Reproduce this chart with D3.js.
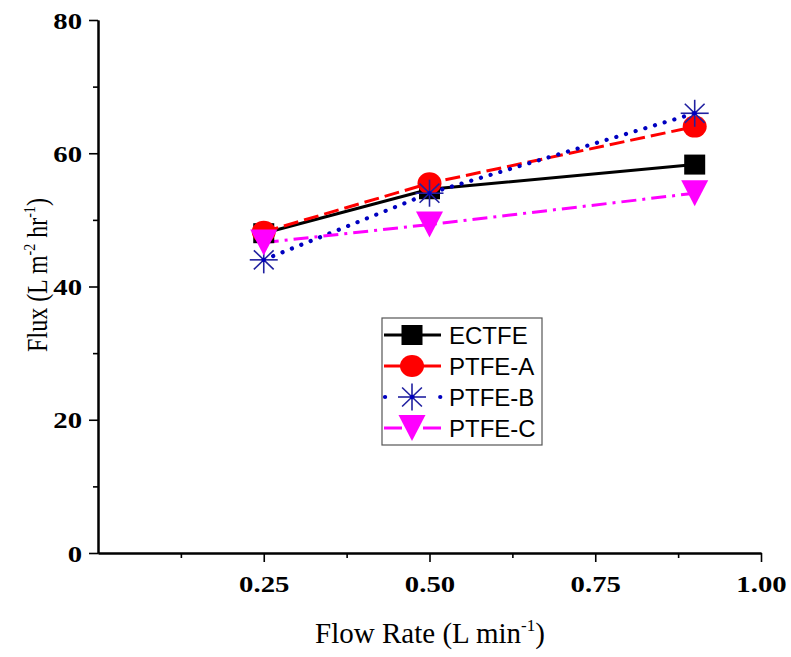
<!DOCTYPE html>
<html><head><meta charset="utf-8">
<script src="https://cdn.jsdelivr.net/npm/d3@7"></script>
<style>body{margin:0;background:#fff}svg{display:block}</style>
</head><body>
<script>
const flowRates = [0.25, 0.5, 0.9];
const seriesNames = ["ECTFE", "PTFE-A", "PTFE-B", "PTFE-C"];
const ectfe = [48.0, 54.6, 58.3];
const ptfeA = [48.2, 55.5, 64.0];
const ptfeB = [44.0, 54.0, 66.0];
const ptfeC = [46.6, 49.3, 54.0];
const xTicks = [0.25, 0.5, 0.75, 1.0];
const xMinor = [0.125, 0.375, 0.625, 0.875];
const yTicks = [0, 20, 40, 60, 80];
const yMinor = [10, 30, 50, 70];

const W = 791, H = 657;
const svg = d3.select("body").append("svg").attr("width", W).attr("height", H);
const x = d3.scaleLinear().domain([0, 1]).range([98, 761]);
const y = d3.scaleLinear().domain([0, 80]).range([553, 20]);

const styles = [
  {color:"#000000", dash:null, marker:"square", width:3},
  {color:"#ff0000", dash:"15,6", marker:"circle", width:3},
  {color:"#0000c0", dash:"0.1,10", marker:"star", width:4.2, cap:"round"},
  {color:"#ff00ff", dash:"15,6,3,6", marker:"tri", width:3}
];
const values = [ectfe, ptfeA, ptfeB, ptfeC];

function drawMarker(g, type, cx, cy, color) {
  if (type === "square") {
    g.append("rect").attr("x", cx-10.5).attr("y", cy-10).attr("width", 21).attr("height", 20).attr("fill", color);
  } else if (type === "circle") {
    g.append("ellipse").attr("cx", cx).attr("cy", cy).attr("rx", 12).attr("ry", 11).attr("fill", color);
  } else if (type === "star") {
    const rx = 14, ry = 13.5;
    for (let k = 0; k < 4; k++) {
      const a = k * Math.PI / 4;
      g.append("line").attr("x1", cx - rx*Math.cos(a)).attr("y1", cy - ry*Math.sin(a))
        .attr("x2", cx + rx*Math.cos(a)).attr("y2", cy + ry*Math.sin(a))
        .attr("stroke", "#2020a0").attr("stroke-width", 1.6);
    }
    g.append("circle").attr("cx", cx).attr("cy", cy).attr("r", 2.2).attr("fill", "#0000c0");
  } else if (type === "tri") {
    const w = 13.5, h = 13;
    g.append("path").attr("d", `M${cx-w},${cy-h}L${cx+w},${cy-h}L${cx},${cy+h}Z`).attr("fill", color);
  }
}

// series
const plot = svg.append("g");
values.forEach((vals, i) => {
  const st = styles[i];
  const data = flowRates.map((fr, j) => [fr, vals[j]]);
  plot.append("path").datum(data)
    .attr("d", d3.line().x(d => x(d[0])).y(d => y(d[1])))
    .attr("fill", "none").attr("stroke", st.color).attr("stroke-width", st.width)
    .attr("stroke-dasharray", st.dash).attr("stroke-linecap", st.cap || "butt");
});
values.forEach((vals, i) => {
  const st = styles[i];
  const g = plot.append("g");
  flowRates.forEach((fr, j) => drawMarker(g, st.marker, x(fr), y(vals[j]), st.color));
});

// axes
const serif = "'Liberation Serif','Times New Roman',serif";
const SX = 1.25;
const xAxis = svg.append("g").attr("transform", "translate(0,553)")
  .call(d3.axisBottom(x).tickValues(xTicks).tickFormat(d3.format(".2f")).tickSize(9).tickSizeOuter(0).tickPadding(14));
const xAxisMinor = svg.append("g").attr("transform", "translate(0,553)")
  .call(d3.axisBottom(x).tickValues(xMinor).tickFormat("").tickSize(5).tickSizeOuter(0));
const yAxis = svg.append("g").attr("transform", "translate(98,0)")
  .call(d3.axisLeft(y).tickValues(yTicks).tickFormat(d3.format("d")).tickSize(9).tickSizeOuter(0).tickPadding(7));
const yAxisMinor = svg.append("g").attr("transform", "translate(98,0)")
  .call(d3.axisLeft(y).tickValues(yMinor).tickFormat("").tickSize(5).tickSizeOuter(0));
[xAxis, xAxisMinor, yAxis, yAxisMinor].forEach(a => {
  a.select(".domain").attr("stroke", "#000").attr("stroke-width", 2);
  a.selectAll(".tick line").attr("stroke", "#000").attr("stroke-width", 1.6);
  a.selectAll("text").attr("font-family", serif).attr("font-weight", "bold").attr("font-size", 23).attr("fill", "#000");
});
yAxis.selectAll("text").attr("dy", "0.35em").each(function() {
  const tx = +d3.select(this).attr("x");
  d3.select(this).attr("transform", `translate(${tx},0) scale(${SX},1) translate(${-tx},0)`);
});
xAxis.selectAll("text").attr("transform", `scale(${SX},1)`);

// axis titles
const xt = svg.append("text").attr("x", 430).attr("y", 643).attr("text-anchor", "middle")
  .attr("font-family", serif).attr("font-size", 29).attr("fill", "#000");
xt.append("tspan").text("Flow Rate (L min");
xt.append("tspan").attr("dy", -12).attr("font-size", 17).text("-1");
xt.append("tspan").attr("dy", 12).text(")");

const yt = svg.append("text").attr("transform", `translate(47,275) scale(1.22,1) rotate(-90)`).attr("text-anchor", "middle")
  .attr("font-family", serif).attr("font-size", 24).attr("fill", "#000");
yt.append("tspan").text("Flux (L m");
yt.append("tspan").attr("dy", -10).attr("font-size", 14).text("-2");
yt.append("tspan").attr("dy", 10).text(" hr");
yt.append("tspan").attr("dy", -10).attr("font-size", 14).text("-1");
yt.append("tspan").attr("dy", 10).text(")");

// legend
const lg = svg.append("g");
lg.append("rect").attr("x", 382).attr("y", 318).attr("width", 160).attr("height", 127)
  .attr("fill", "#fff").attr("stroke", "#555").attr("stroke-width", 1.2);
const legRows = [335, 366, 397, 428];
seriesNames.forEach((name, i) => {
  const st = styles[i];
  const ry = legRows[i];
  const seg = lg.append("line").attr("x1", 384).attr("x2", 441).attr("y1", ry).attr("y2", ry)
    .attr("stroke", st.color).attr("stroke-width", st.width).attr("stroke-linecap", st.cap || "butt");
  if (st.marker === "star") seg.attr("stroke-dasharray", "0.1,27.5").attr("x1", 385);
  if (st.marker === "tri") seg.attr("stroke-dasharray", "18,21,18");
  drawMarker(lg, st.marker, 412, ry, st.color);
  lg.append("text").attr("x", 449).attr("y", ry).attr("dy", "0.36em")
    .attr("font-family", "'Liberation Sans',Arial,sans-serif").attr("font-size", 24).attr("fill", "#000").text(name);
});
</script>
</body></html>
